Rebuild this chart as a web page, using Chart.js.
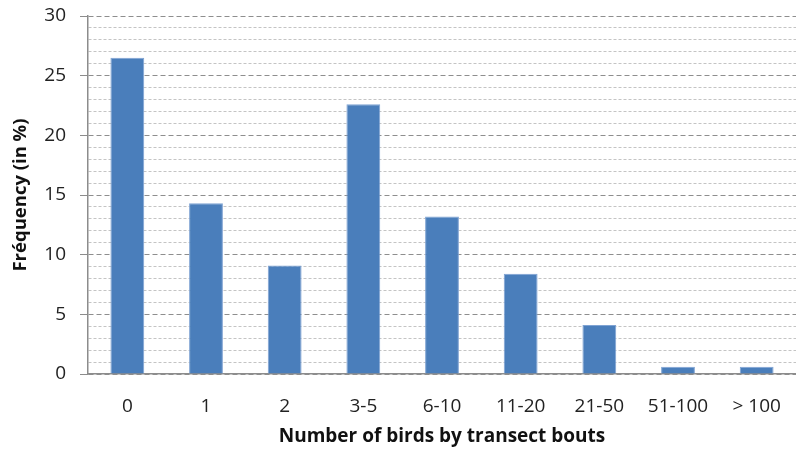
<!DOCTYPE html>
<html>
<head>
<meta charset="utf-8">
<script src="https://cdn.jsdelivr.net/npm/chart.js@4/dist/chart.umd.min.js"></script>
<style>
  html, body { margin: 0; padding: 0; background: #fff; }
  #wrap { width: 796px; height: 452px; }
</style>
</head>
<body>
<div id="wrap"><canvas id="birdsChart"></canvas></div>
<script>
const categories = ['0', '1', '2', '3-5', '6-10', '11-20', '21-50', '51-100', '> 100'];
const frequency = [26.5, 14.3, 9.1, 22.6, 13.2, 8.4, 4.1, 0.6, 0.6];

const FONT = "'Open Sans', 'DejaVu Sans', sans-serif";
const isMajor = (v) => v % 5 === 0;

let ctx = document.getElementById('birdsChart').getContext('2d');
let birdsChart = new Chart(ctx, {
  type: 'bar',
  data: {
    labels: categories,
    datasets: [{
      label: 'Frequency',
      data: frequency,
      backgroundColor: '#4a7ebb',
      borderColor: '#7fa3d3',
      borderWidth: 1,
      barPercentage: 0.43,
      categoryPercentage: 1.0
    }]
  },
  options: {
    responsive: true,
    maintainAspectRatio: false,
    animation: false,
    layout: { padding: { top: 16, right: 0, left: 0, bottom: 0 } },
    plugins: {
      legend: { display: false },
      tooltip: { enabled: false }
    },
    scales: {
      x: {
        grid: { display: false },
        border: { display: true, color: '#8c8c8c', width: 1.5 },
        ticks: { color: '#222', padding: 13, font: { family: FONT, size: 19 } },
        title: {
          display: true,
          text: 'Number of birds by transect bouts',
          color: '#111',
          padding: { top: 4 },
          font: { family: FONT, size: 19, weight: 'bold' }
        },
        afterFit: (scale) => { scale.height = 78; }
      },
      y: {
        min: 0,
        max: 30,
        ticks: {
          stepSize: 1,
          autoSkip: false,
          color: '#222',
          padding: 14,
          font: { family: FONT, size: 19 },
          callback: (v) => isMajor(v) ? v : ''
        },
        grid: {
          color: (c) => isMajor(c.tick.value) ? '#8e8e8e' : '#c4c4c4',
          tickColor: (c) => isMajor(c.tick.value) ? '#8c8c8c' : 'rgba(0,0,0,0)',
          tickLength: 8,
          lineWidth: 1
        },
        border: {
          display: true,
          color: '#8c8c8c',
          width: 1.5,
          dash: (c) => isMajor(c.tick.value) ? [5, 3] : [3, 2]
        },
        title: {
          display: true,
          text: 'Fréquency (in %)',
          color: '#111',
          padding: { top: 10, bottom: 2 },
          font: { family: FONT, size: 18.5, weight: 'bold' }
        },
        afterFit: (scale) => {
          scale.width = 88;
          // top spacing comes from layout.padding only
          scale.paddingTop = 0;
          scale.paddingBottom = 0;
        }
      }
    }
  }
});
</script>
</body>
</html>
